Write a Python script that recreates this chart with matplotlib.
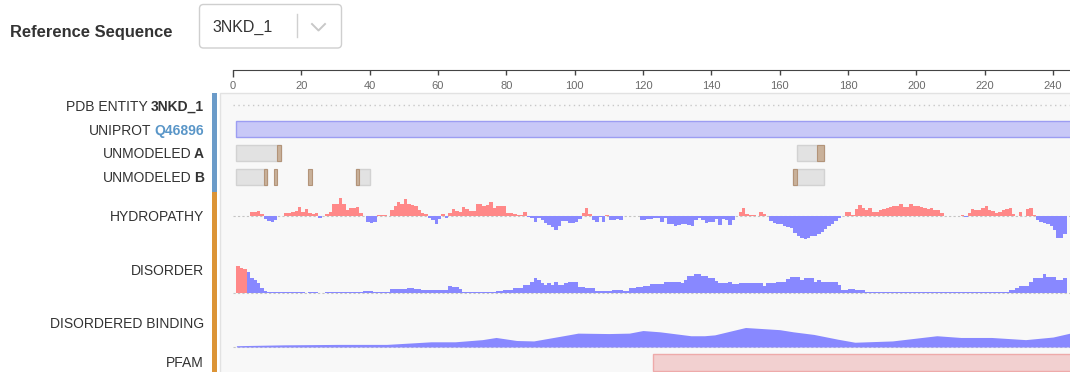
import numpy as np
import matplotlib
matplotlib.use("Agg")
import matplotlib.pyplot as plt
from matplotlib.patches import Rectangle, FancyBboxPatch

plt.rcParams['font.family'] = ['Liberation Sans', 'DejaVu Sans']

W, H = 1070, 372

# ruler ticks (residue numbers)
ruler_ticks = list(range(0, 241, 20))

# sequence features: (start, end) in residue numbers, end exclusive
uniprot_span = (1, 250)
unmodeled_a = [(1, 14), (165, 173)]
unmodeled_a_marks = [(13, 14), (171, 173)]
unmodeled_b = [(1, 10), (36, 40), (164, 173)]
unmodeled_b_marks = [(9, 10), (12, 13), (22, 23), (36, 37), (164, 165)]
pfam_span = (123, 250)

# hydropathy score per residue, starting at residue 5
hydro_start = 5
hydro_values = [
    0.9, 0.8, 1.1, 0.5, -0.5, -0.9, -1.1, -0.7, 0.0, 0.0,
    0.7, 0.7, 0.8, 1.1, 1.9, 0.8, 1.5, 0.7, 0.5, 0.7,
    -0.4, 0.1, 0.5, 0.9, 2.4, 2.4, 3.6, 2.4, 1.2, 1.6,
    1.7, 1.9, 0.7, 0.0, -1.2, -1.3, -1.2, 0.3, 0.3, 0.3,
    0.1, 1.2, 2.0, 2.8, 2.5, 3.5, 2.5, 2.3, 2.1, 1.2,
    0.7, 0.4, -0.3, -0.8, -1.5, -0.5, 0.4, -0.3, 0.7, 1.5,
    1.1, 0.8, 1.9, 1.5, 1.1, 1.1, 2.4, 2.4, 2.0, 2.3,
    2.8, 1.6, 2.1, 2.1, 2.1, 0.7, 0.7, 0.5, 0.3, 0.3,
    0.8, -0.1, -0.3, -1.1, -0.4, -0.8, -1.3, -1.7, -2.1, -2.8,
    -2.0, -0.9, -0.9, -1.3, -1.3, -1.1, -0.5, 0.7, 1.6, 0.4,
    -0.7, -1.1, -0.1, -1.1, 0.3, -0.7, -0.7, -0.5, -0.7, 0.1,
    0.1, 0.1, 0.0, 0.0, -0.7, -0.7, -0.5, -0.5, -0.4, -0.4,
    -1.1, -0.3, -1.5, -1.5, -2.0, -1.7, -1.5, -1.5, -1.7, -2.0,
    -0.7, -0.4, -0.7, -1.3, -1.2, -1.2, -0.5, -1.7, -0.5, -0.7,
    -1.7, -0.7, 0.0, 0.8, 1.7, 0.5, 0.3, 0.3, 0.1, 0.9,
    0.4, 0.0, -0.9, -1.3, -1.5, -1.6, -1.9, -2.1, -2.3, -3.3,
    -3.9, -4.4, -4.5, -4.4, -4.0, -4.0, -3.5, -3.1, -2.5, -2.0,
    -1.6, -0.9, -0.3, 0.1, 0.9, 0.9, 0.3, 1.5, 2.3, 1.7,
    1.3, 1.7, 0.8, 0.9, 1.2, 1.5, 1.7, 1.9, 2.0, 2.1,
    2.4, 1.9, 1.9, 2.4, 2.1, 2.0, 1.9, 1.6, 1.5, 1.7,
    1.3, 1.2, 0.7, 0.1, 0.1, 0.1, 0.1, 0.1, 0.3, -0.1,
    0.7, 1.5, 1.2, 1.3, 1.7, 2.1, 1.2, 1.1, 0.7, 0.9,
    1.2, 1.5, 1.7, 0.4, 0.0, 0.9, 0.0, 1.5, 1.6, 0.3,
    -0.7, -1.1, -1.3, -1.6, -2.0, -2.7, -4.4, -4.4, -3.6,
]

# disorder probability per residue, starting at residue 1
disorder_start = 1
disorder_values = [
    .62, .57, .55, .49, .35, .31, .22, .11, .05, .02,
    .02, .02, .02, .03, .03, .03, .03, .03, .02, .02,
    .01, .02, .02, .02, .01, .01, .02, .02, .02, .02,
    .02, .03, .03, .03, .03, .03, .03, .05, .05, .04,
    .03, .03, .02, .02, .02, .09, .09, .09, .09, .09,
    .12, .12, .09, .09, .08, .08, .08, .06, .06, .08,
    .08, .08, .17, .14, .14, .09, .03, .02, .02, .02,
    .02, .02, .02, .02, .02, .02, .05, .05, .06, .07,
    .08, .11, .11, .11, .18, .18, .26, .34, .31, .23,
    .18, .22, .18, .25, .18, .18, .23, .25, .25, .25,
    .15, .15, .11, .11, .11, .05, .05, .05, .05, .05,
    .08, .08, .08, .05, .05, .11, .11, .15, .15, .17,
    .17, .20, .20, .20, .20, .26, .26, .26, .26, .26,
    .22, .31, .40, .40, .45, .45, .40, .40, .35, .35,
    .28, .22, .22, .22, .26, .20, .20, .23, .23, .22,
    .22, .22, .22, .22, .17, .23, .23, .23, .26, .26,
    .26, .32, .37, .37, .37, .29, .35, .35, .35, .25,
    .31, .26, .26, .26, .26, .26, .18, .08, .08, .09,
    .09, .06, .06, .06, .02, .02, .02, .02, .02, .02,
    .02, .02, .02, .02, .02, .02, .02, .02, .03, .03,
    .03, .02, .02, .02, .02, .02, .02, .02, .03, .03,
    .03, .03, .03, .02, .02, .03, .03, .03, .03, .03,
    .03, .03, .03, .02, .02, .02, .06, .06, .11, .17,
    .17, .17, .26, .35, .35, .35, .45, .37, .37, .38,
    .31, .31, .35,
]
disorder_cutoff = 0.5

# disordered binding propensity
binding_pos = [1, 15, 31, 45, 58, 65, 73, 77, 83, 88, 96, 101, 110, 116, 120,
               125, 134, 138, 141, 150, 154, 160, 164, 170, 177, 182, 193, 206,
               213, 222, 232, 240, 245]
binding_val = [.03, .05, .06, .06, .12, .12, .17, .22, .15, .14, .25, .32, .31,
               .32, .38, .35, .26, .26, .28, .45, .43, .40, .35, .29, .18, .11,
               .14, .26, .22, .22, .17, .23, .32]

RED = '#ff8888'
BLUE = '#8888ff'
TXT = '#333333'

fig = plt.figure(figsize=(W / 100, H / 100), dpi=100)


def px_axes(x0, y0, x1, y1):
    ax = fig.add_axes([x0 / W, 1 - y1 / H, (x1 - x0) / W, (y1 - y0) / H])
    ax.patch.set_alpha(0)
    return ax


# horizontal scale shared by all tracks: residue 0 sits at x=233, 3.4167 px per residue
PX0, PXR = 233, 820 / 240
XL = ((220 - PX0) / PXR, (W - PX0) / PXR)

# page chrome in pixel units
ui = px_axes(0, 0, W, H)
ui.set_xlim(0, W)
ui.set_ylim(H, 0)
ui.axis('off')
ui.add_patch(Rectangle((220, 93), 900, 300, fc='#f8f8f8', ec='#e2e2e2', lw=1))
ui.add_patch(Rectangle((212, 93), 5, 99, fc='#6b9bc9', ec='none'))
ui.add_patch(Rectangle((212, 192), 5, 190, fc='#dc9436', ec='none'))
ui.add_patch(FancyBboxPatch((199.5, 4.5), 142, 43.5, boxstyle='round,pad=0,rounding_size=4',
                            fc='white', ec='#cfcfcf', lw=1))
ui.plot([297, 297], [14, 37], color='#d0d0d0', lw=1)
ui.plot([312, 318.5, 325], [24, 30.5, 24], color='#c8c8c8', lw=1.4)
ui.text(10, 37.3, 'Reference Sequence', fontsize=11.9, weight='bold', color=TXT, va='baseline')
ui.text(212, 32.3, '3NKD_1', fontsize=11.5, color=TXT, va='baseline')

renderer = fig.canvas.get_renderer()


def track_label(y, plain, strong=None, strong_color=TXT):
    x = 204
    if strong is not None:
        t = ui.text(x, y, strong, fontsize=10, weight='bold', color=strong_color,
                    ha='right', va='baseline')
        bb = t.get_window_extent(renderer)
        x = ui.transData.inverted().transform((bb.x0, 0))[0] - 2.8
    ui.text(x, y, plain, fontsize=10, color=TXT, ha='right', va='baseline')


track_label(111, 'PDB ENTITY', '3NKD_1')
track_label(135, 'UNIPROT', 'Q46896', '#5a96c8')
track_label(158.3, 'UNMODELED', 'A')
track_label(182.3, 'UNMODELED', 'B')
track_label(220.7, 'HYDROPATHY')
track_label(275, 'DISORDER')
track_label(328.3, 'DISORDERED BINDING')
track_label(367.3, 'PFAM')

# ruler
ruler = px_axes(PX0, 69, W, 70)
ruler.set_xlim(0, XL[1])
for s in ('top', 'left', 'right'):
    ruler.spines[s].set_visible(False)
ruler.spines['bottom'].set_color('#444444')
ruler.set_yticks([])
ruler.set_xticks(ruler_ticks)
ruler.tick_params(axis='x', length=3.6, width=1, color='#444444', labelsize=8,
                  labelcolor='#6a6a6a', pad=4)
ruler.get_xticklines()[0].set_markersize(5)

# feature rows
feat = px_axes(220, 93, W, 192)
feat.set_xlim(XL)
feat.set_ylim(3.625, -0.5)
feat.axis('off')
feat.hlines(0, 0, XL[1], color='#c8c8c8', ls=(0, (1, 2.5)), lw=1)
feat.barh(1, uniprot_span[1] - uniprot_span[0], left=uniprot_span[0], height=0.69,
          color='#c8c8f7', edgecolor='#9c9df2', lw=1)
for row, spans, marks in ((2, unmodeled_a, unmodeled_a_marks), (3, unmodeled_b, unmodeled_b_marks)):
    for a, b in spans:
        feat.barh(row, b - a, left=a, height=0.69, color='#e2e2e2', edgecolor='#d2d2d2', lw=1)
    for a, b in marks:
        feat.barh(row, b - a, left=a, height=0.69, color='#c9b19a', edgecolor='#b39479', lw=0.8)

# hydropathy
hyd = px_axes(220, 192, W, 242)
hyd.set_xlim(XL)
hyd.set_ylim(-5.2, 4.8)
hyd.axis('off')
hv = np.array(hydro_values)
he = np.arange(hydro_start, hydro_start + len(hv) + 1)
hyd.hlines(0, 0, XL[1], color='#c4c4c4', ls=(0, (2, 2)), lw=0.8, zorder=0)
hyd.stairs(np.clip(hv, 0, None), he, baseline=0, fill=True, color=RED, lw=0)
hyd.stairs(np.clip(hv, None, 0), he, baseline=0, fill=True, color=BLUE, lw=0)

# disorder
dis = px_axes(220, 246, W, 296)
dis.set_xlim(XL)
dis.set_ylim(-3 / 43.33, 47 / 43.33)
dis.axis('off')
dv = np.array(disorder_values)
de = np.arange(disorder_start, disorder_start + len(dv) + 1)
dis.hlines(0, 0, XL[1], color='#c4c4c4', ls=(0, (2, 2)), lw=0.8, zorder=0)
dis.stairs(np.where(dv >= disorder_cutoff, dv, 0), de, baseline=0, fill=True, color=RED, lw=0)
dis.stairs(np.where(dv < disorder_cutoff, dv, 0), de, baseline=0, fill=True, color=BLUE, lw=0)

# disordered binding
bnd = px_axes(220, 300, W, 350)
bnd.set_xlim(XL)
bnd.set_ylim(-3 / 43.33, 47 / 43.33)
bnd.axis('off')
bnd.hlines(0, 0, XL[1], color='#c4c4c4', ls=(0, (2, 2)), lw=0.8, zorder=0)
bnd.fill_between(binding_pos, binding_val, color=BLUE, lw=0)

# pfam
pf = px_axes(220, 350, W, H)
pf.set_xlim(XL)
pf.set_ylim(0.396, -0.52)
pf.axis('off')
pf.barh(0, pfam_span[1] - pfam_span[0], left=pfam_span[0], height=0.71,
        color='#f2d0d0', edgecolor='#eeaaaa', lw=1)

fig.savefig('out.png', dpi=100)
